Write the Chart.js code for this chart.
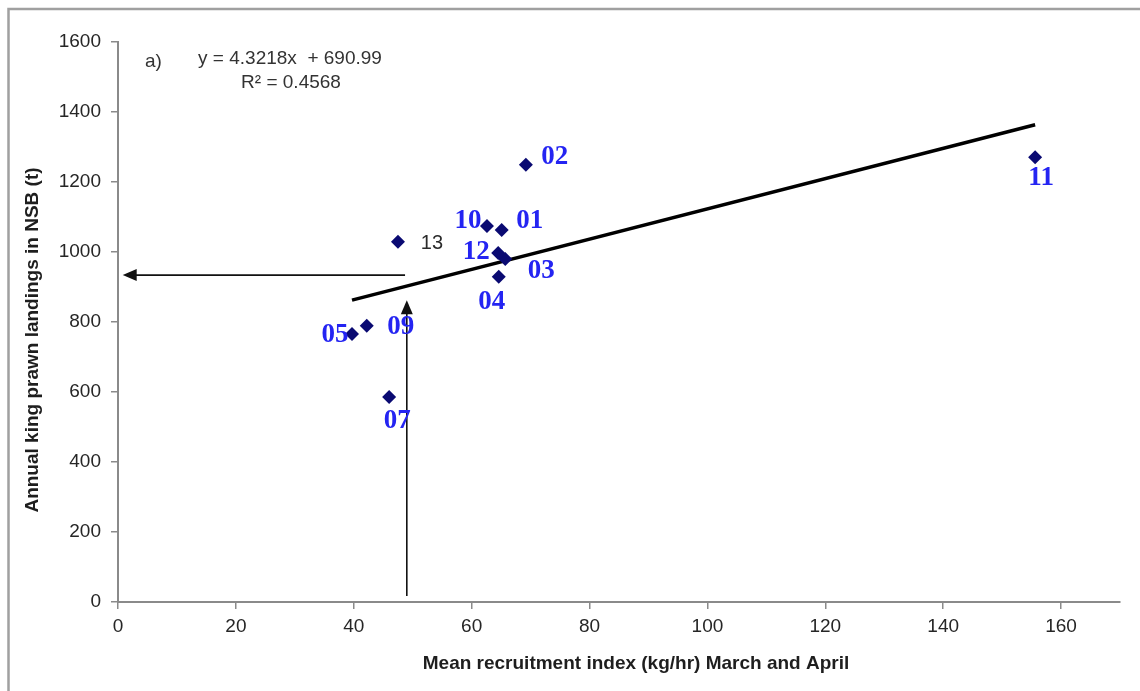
<!DOCTYPE html>
<html>
<head>
<meta charset="utf-8">
<script src="https://cdn.jsdelivr.net/npm/chart.js@4.4.1/dist/chart.umd.min.js"></script>
<style>
  html, body { margin: 0; padding: 0; background: #ffffff; }
  #wrap { width: 1140px; height: 691px; }
</style>
</head>
<body>
<div id="wrap"><canvas id="c" width="1140" height="691"></canvas></div>
<script>
// Season labels (year of recruitment survey)
const years = ['01', '02', '03', '04', '05', '07', '09', '10', '11', '12', '13'];
// Mean recruitment index, March and April (kg/hr)
const recruitIndex = [65.1, 69.2, 65.7, 64.6, 39.7, 46.0, 42.2, 62.6, 155.6, 64.5, 47.5];
// Annual king prawn landings in NSB (t)
const landings = [1063, 1249, 980, 929, 766, 586, 789, 1074, 1271, 997, 1029];

// Linear fit: y = slope * x + intercept, drawn over the range of the data
const trendSlope = 4.3218;
const trendIntercept = 690.99;
const trendXRange = [39.7, 155.6];

// Prediction arrows for the 2013 index: up from the x axis to the fit, then across to the y axis
const upArrowX = [49.0, 49.0];
const upArrowY = [17, 862];
const leftArrowX = [48.7, 0.8];
const leftArrowY = [934, 934];

// Axis ticks
const xTicks = [0, 20, 40, 60, 80, 100, 120, 140, 160];
const yTicks = [0, 200, 400, 600, 800, 1000, 1200, 1400, 1600];

// Label placement (pixel offset of the label centre from its point)
const labelStyle = {
  '01': [28, -9], '02': [29, -8], '03': [36, 12], '04': [-7, 25],
  '05': [-17, 1], '07': [8, 24], '09': [34, 1], '10': [-19, -5],
  '11': [6, 21], '12': [-22, -1], '13': [34, 2]
};

const points = recruitIndex.map((x, i) => ({ x: x, y: landings[i] }));
const trendPoints = trendXRange.map(x => ({ x: x, y: trendSlope * x + trendIntercept }));

function drawArrow(ctx, x0, y0, x1, y1) {
  const ang = Math.atan2(y1 - y0, x1 - x0);
  const len = 14, half = 6;
  ctx.beginPath();
  ctx.moveTo(x0, y0);
  ctx.lineTo(x1 - Math.cos(ang) * (len - 2), y1 - Math.sin(ang) * (len - 2));
  ctx.stroke();
  ctx.beginPath();
  ctx.moveTo(x1, y1);
  ctx.lineTo(x1 - Math.cos(ang) * len - Math.sin(ang) * half, y1 - Math.sin(ang) * len + Math.cos(ang) * half);
  ctx.lineTo(x1 - Math.cos(ang) * len + Math.sin(ang) * half, y1 - Math.sin(ang) * len - Math.cos(ang) * half);
  ctx.closePath();
  ctx.fill();
}

const annotations = {
  id: 'annotations',
  afterDraw(chart) {
    const ctx = chart.ctx;
    const xs = chart.scales.x, ys = chart.scales.y;
    ctx.save();

    // frame lines along the top and left edge
    ctx.strokeStyle = '#a0a0a0';
    ctx.lineWidth = 2.5;
    ctx.beginPath();
    ctx.moveTo(1140, 9);
    ctx.lineTo(8.5, 9);
    ctx.lineTo(8.5, 691);
    ctx.stroke();

    // arrows
    ctx.strokeStyle = '#111111';
    ctx.fillStyle = '#111111';
    ctx.lineWidth = 1.6;
    drawArrow(ctx, xs.getPixelForValue(upArrowX[0]), ys.getPixelForValue(upArrowY[0]),
      xs.getPixelForValue(upArrowX[1]), ys.getPixelForValue(upArrowY[1]));
    drawArrow(ctx, xs.getPixelForValue(leftArrowX[0]), ys.getPixelForValue(leftArrowY[0]),
      xs.getPixelForValue(leftArrowX[1]), ys.getPixelForValue(leftArrowY[1]));

    // point labels
    ctx.textAlign = 'center';
    ctx.textBaseline = 'middle';
    years.forEach((yr, i) => {
      const px = xs.getPixelForValue(recruitIndex[i]);
      const py = ys.getPixelForValue(landings[i]);
      const off = labelStyle[yr];
      if (yr === '13') {
        ctx.font = '20px "Liberation Sans", Arial, sans-serif';
        ctx.fillStyle = '#2b2b2b';
      } else {
        ctx.font = 'bold 27px "Liberation Serif", "Times New Roman", serif';
        ctx.fillStyle = '#2424f2';
      }
      ctx.fillText(yr, px + off[0], py + off[1]);
    });

    // fit equation
    ctx.fillStyle = '#333333';
    ctx.font = '19px "Liberation Sans", Arial, sans-serif';
    ctx.textAlign = 'left';
    ctx.fillText('a)', 145, 62);
    ctx.textAlign = 'center';
    ctx.fillText('y = ' + trendSlope + 'x  + ' + trendIntercept, 290, 59);
    ctx.fillText('R\u00B2 = 0.4568', 291, 83);

    // axis titles
    ctx.fillStyle = '#1e1e1e';
    ctx.font = 'bold 19px "Liberation Sans", Arial, sans-serif';
    ctx.fillText('Mean recruitment index (kg/hr) March and April', 636, 664);
    ctx.translate(33, 340);
    ctx.rotate(-Math.PI / 2);
    ctx.fillText('Annual king prawn landings in NSB (t)', 0, 0);
    ctx.restore();
  }
};

const plainNumber = v => String(v);

new Chart(document.getElementById('c'), {
  data: {
    datasets: [
      {
        type: 'line',
        data: trendPoints,
        borderColor: '#000000',
        borderWidth: 3.5,
        pointRadius: 0,
        fill: false,
        order: 2
      },
      {
        type: 'scatter',
        data: points,
        pointStyle: 'rectRot',
        pointRadius: 7,
        backgroundColor: '#0a0a72',
        borderColor: '#0a0a72',
        borderWidth: 0,
        order: 1
      }
    ]
  },
  options: {
    responsive: false,
    animation: false,
    devicePixelRatio: 1,
    layout: { padding: { top: 42, right: 20, left: 0, bottom: 0 } },
    plugins: { legend: { display: false }, tooltip: { enabled: false } },
    scales: {
      x: {
        type: 'linear',
        min: 0,
        max: 170,
        afterBuildTicks(scale) { scale.ticks = xTicks.map(v => ({ value: v })); },
        afterFit(scale) { scale.height = 89; },
        grid: { drawOnChartArea: false, drawTicks: true, tickLength: 7, color: '#8a8a8a', lineWidth: 1.5 },
        border: { color: '#8a8a8a', width: 2 },
        ticks: { callback: plainNumber, color: '#262626', padding: 6, font: { family: '"Liberation Sans", Arial, sans-serif', size: 19 } }
      },
      y: {
        type: 'linear',
        min: 0,
        max: 1600,
        afterBuildTicks(scale) { scale.ticks = yTicks.map(v => ({ value: v })); },
        afterFit(scale) { scale.width = 118; },
        grid: { drawOnChartArea: false, drawTicks: true, tickLength: 7, color: '#8a8a8a', lineWidth: 1.5 },
        border: { color: '#8a8a8a', width: 2 },
        ticks: { callback: plainNumber, color: '#262626', padding: 10, font: { family: '"Liberation Sans", Arial, sans-serif', size: 19 } }
      }
    }
  },
  plugins: [annotations]
});
</script>
</body>
</html>
